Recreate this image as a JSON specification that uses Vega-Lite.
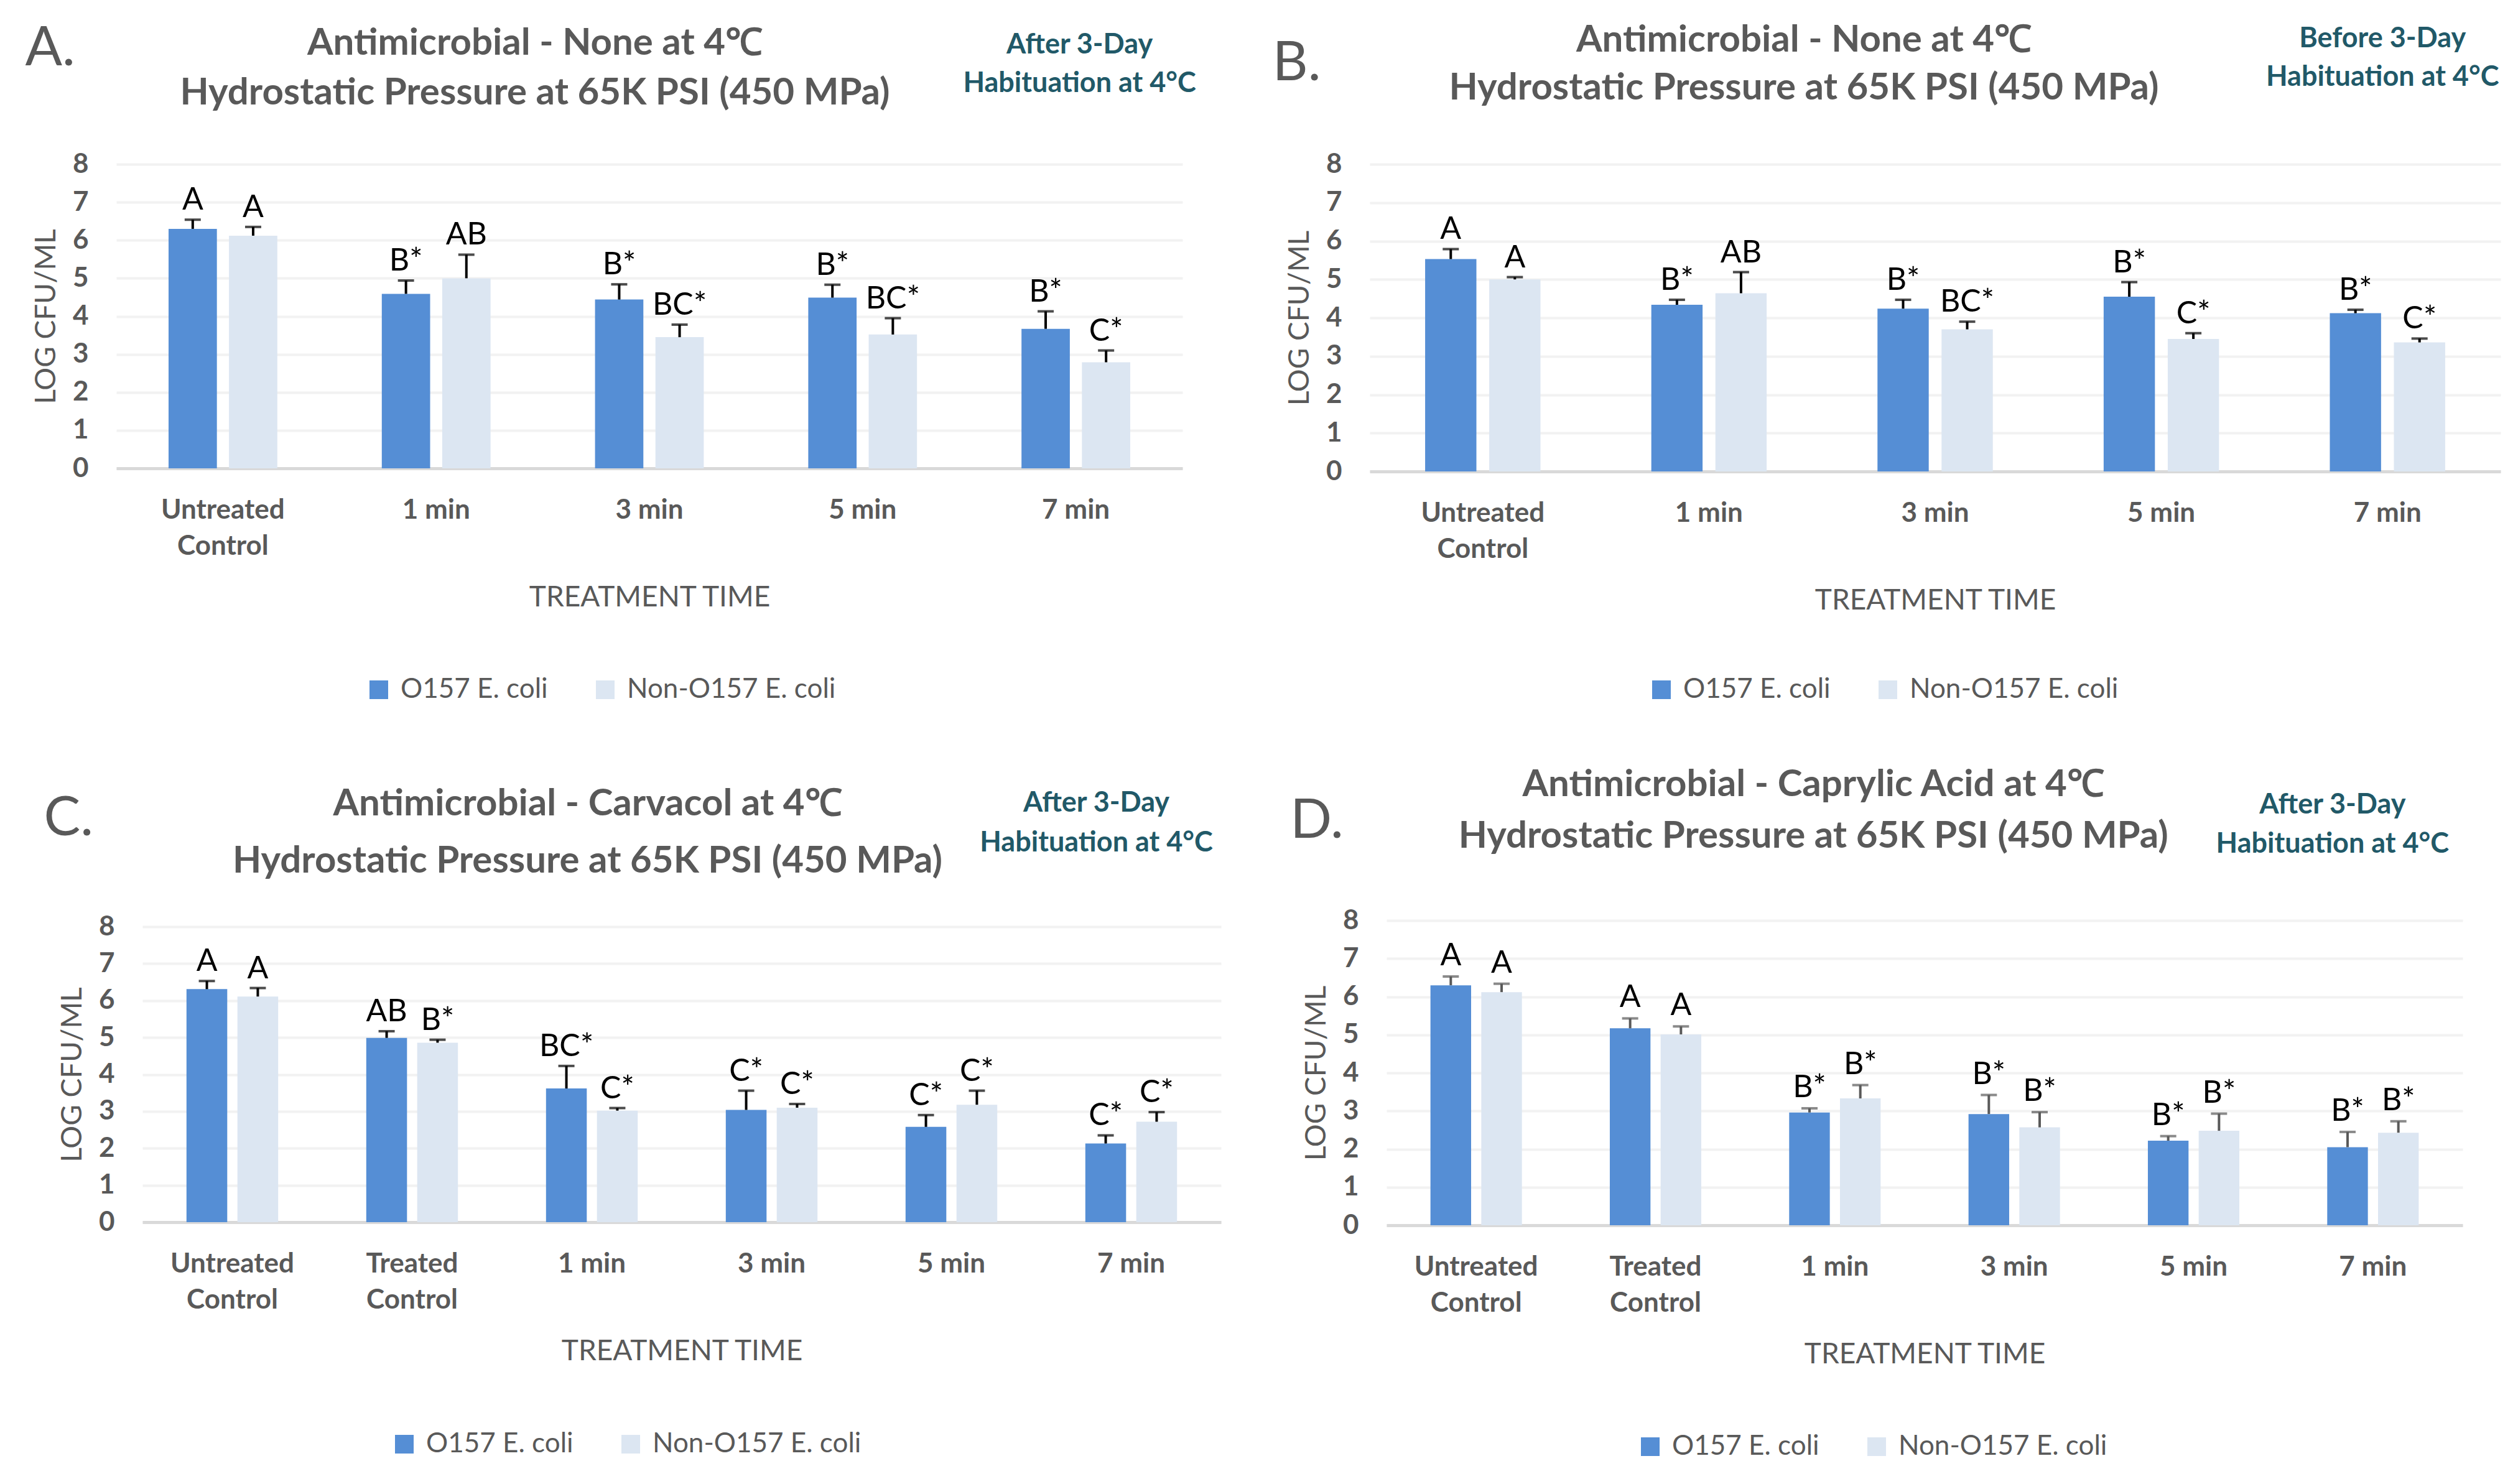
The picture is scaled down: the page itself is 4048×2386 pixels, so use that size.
{
  "$schema": "https://vega.github.io/schema/vega-lite/v6.json",
  "background": "white",
  "padding": {"left": 40, "top": 35, "right": 10, "bottom": 10},
  "config": {
    "view": {"stroke": null},
    "font": "Lato",
    "axis": {"labelFont": "Lato", "titleFont": "Lato", "labelColor": "#595959", "titleColor": "#595959", "labelFontWeight": "bold", "titleFontWeight": "normal", "ticks": false, "labelLimit": 0},
    "axisX": {"labelFontSize": 44, "titleFontSize": 46, "labelPadding": 45, "labelLineHeight": 58, "titlePadding": 38, "domainColor": "#D9D9D9", "domainWidth": 5, "grid": false, "labelAngle": 0},
    "axisY": {"labelFontSize": 44, "titleFontSize": 46, "labelPadding": 45, "titlePadding": 18, "domain": false, "grid": true, "gridColor": "#F2F2F2", "gridWidth": 4, "format": "d"},
    "legend": {"orient": "none", "direction": "horizontal", "title": null, "symbolType": "square", "symbolSize": 900, "symbolStrokeWidth": 0, "labelFontSize": 44, "labelColor": "#595959", "labelFont": "Lato", "labelOffset": 13, "columnPadding": 70, "labelLimit": 0}
  },
  "datasets": {
    "bars": [
      {"panel": "A", "time": "Untreated Control", "series": "O157 E. coli", "value": 6.30, "hi": 6.54, "sig": "A"},
      {"panel": "A", "time": "Untreated Control", "series": "Non-O157 E. coli", "value": 6.12, "hi": 6.35, "sig": "A"},
      {"panel": "A", "time": "1 min", "series": "O157 E. coli", "value": 4.59, "hi": 4.94, "sig": "B*"},
      {"panel": "A", "time": "1 min", "series": "Non-O157 E. coli", "value": 5.00, "hi": 5.62, "sig": "AB"},
      {"panel": "A", "time": "3 min", "series": "O157 E. coli", "value": 4.44, "hi": 4.84, "sig": "B*"},
      {"panel": "A", "time": "3 min", "series": "Non-O157 E. coli", "value": 3.45, "hi": 3.78, "sig": "BC*"},
      {"panel": "A", "time": "5 min", "series": "O157 E. coli", "value": 4.49, "hi": 4.83, "sig": "B*"},
      {"panel": "A", "time": "5 min", "series": "Non-O157 E. coli", "value": 3.52, "hi": 3.95, "sig": "BC*"},
      {"panel": "A", "time": "7 min", "series": "O157 E. coli", "value": 3.67, "hi": 4.13, "sig": "B*"},
      {"panel": "A", "time": "7 min", "series": "Non-O157 E. coli", "value": 2.79, "hi": 3.10, "sig": "C*"},
      {"panel": "B", "time": "Untreated Control", "series": "O157 E. coli", "value": 5.53, "hi": 5.79, "sig": "A"},
      {"panel": "B", "time": "Untreated Control", "series": "Non-O157 E. coli", "value": 5.00, "hi": 5.06, "sig": "A"},
      {"panel": "B", "time": "1 min", "series": "O157 E. coli", "value": 4.34, "hi": 4.47, "sig": "B*"},
      {"panel": "B", "time": "1 min", "series": "Non-O157 E. coli", "value": 4.64, "hi": 5.19, "sig": "AB"},
      {"panel": "B", "time": "3 min", "series": "O157 E. coli", "value": 4.24, "hi": 4.47, "sig": "B*"},
      {"panel": "B", "time": "3 min", "series": "Non-O157 E. coli", "value": 3.70, "hi": 3.90, "sig": "BC*"},
      {"panel": "B", "time": "5 min", "series": "O157 E. coli", "value": 4.55, "hi": 4.93, "sig": "B*"},
      {"panel": "B", "time": "5 min", "series": "Non-O157 E. coli", "value": 3.45, "hi": 3.60, "sig": "C*"},
      {"panel": "B", "time": "7 min", "series": "O157 E. coli", "value": 4.12, "hi": 4.21, "sig": "B*"},
      {"panel": "B", "time": "7 min", "series": "Non-O157 E. coli", "value": 3.36, "hi": 3.46, "sig": "C*"},
      {"panel": "C", "time": "Untreated Control", "series": "O157 E. coli", "value": 6.31, "hi": 6.53, "sig": "A"},
      {"panel": "C", "time": "Untreated Control", "series": "Non-O157 E. coli", "value": 6.11, "hi": 6.34, "sig": "A"},
      {"panel": "C", "time": "Treated Control", "series": "O157 E. coli", "value": 4.99, "hi": 5.17, "sig": "AB"},
      {"panel": "C", "time": "Treated Control", "series": "Non-O157 E. coli", "value": 4.86, "hi": 4.94, "sig": "B*"},
      {"panel": "C", "time": "1 min", "series": "O157 E. coli", "value": 3.62, "hi": 4.23, "sig": "BC*"},
      {"panel": "C", "time": "1 min", "series": "Non-O157 E. coli", "value": 3.02, "hi": 3.09, "sig": "C*"},
      {"panel": "C", "time": "3 min", "series": "O157 E. coli", "value": 3.04, "hi": 3.56, "sig": "C*"},
      {"panel": "C", "time": "3 min", "series": "Non-O157 E. coli", "value": 3.10, "hi": 3.20, "sig": "C*"},
      {"panel": "C", "time": "5 min", "series": "O157 E. coli", "value": 2.58, "hi": 2.90, "sig": "C*"},
      {"panel": "C", "time": "5 min", "series": "Non-O157 E. coli", "value": 3.18, "hi": 3.56, "sig": "C*"},
      {"panel": "C", "time": "7 min", "series": "O157 E. coli", "value": 2.13, "hi": 2.35, "sig": "C*"},
      {"panel": "C", "time": "7 min", "series": "Non-O157 E. coli", "value": 2.72, "hi": 2.98, "sig": "C*"},
      {"panel": "D", "time": "Untreated Control", "series": "O157 E. coli", "value": 6.30, "hi": 6.53, "sig": "A"},
      {"panel": "D", "time": "Untreated Control", "series": "Non-O157 E. coli", "value": 6.12, "hi": 6.34, "sig": "A"},
      {"panel": "D", "time": "Treated Control", "series": "O157 E. coli", "value": 5.17, "hi": 5.43, "sig": "A"},
      {"panel": "D", "time": "Treated Control", "series": "Non-O157 E. coli", "value": 5.01, "hi": 5.22, "sig": "A"},
      {"panel": "D", "time": "1 min", "series": "O157 E. coli", "value": 2.96, "hi": 3.07, "sig": "B*"},
      {"panel": "D", "time": "1 min", "series": "Non-O157 E. coli", "value": 3.33, "hi": 3.68, "sig": "B*"},
      {"panel": "D", "time": "3 min", "series": "O157 E. coli", "value": 2.92, "hi": 3.42, "sig": "B*"},
      {"panel": "D", "time": "3 min", "series": "Non-O157 E. coli", "value": 2.57, "hi": 2.97, "sig": "B*"},
      {"panel": "D", "time": "5 min", "series": "O157 E. coli", "value": 2.22, "hi": 2.34, "sig": "B*"},
      {"panel": "D", "time": "5 min", "series": "Non-O157 E. coli", "value": 2.48, "hi": 2.93, "sig": "B*"},
      {"panel": "D", "time": "7 min", "series": "O157 E. coli", "value": 2.05, "hi": 2.45, "sig": "B*"},
      {"panel": "D", "time": "7 min", "series": "Non-O157 E. coli", "value": 2.43, "hi": 2.73, "sig": "B*"}
    ],
    "notes": [
      {"panel": "A", "letter": "A.", "note": "After 3-Day\nHabituation at 4°C", "title": "Antimicrobial - None at 4℃\nHydrostatic Pressure at 65K PSI (450 MPa)"},
      {"panel": "B", "letter": "B.", "note": "Before 3-Day\nHabituation at 4°C", "title": "Antimicrobial - None at 4℃\nHydrostatic Pressure at 65K PSI (450 MPa)"},
      {"panel": "C", "letter": "C.", "note": "After 3-Day\nHabituation at 4°C", "title": "Antimicrobial - Carvacol at 4℃\nHydrostatic Pressure at 65K PSI (450 MPa)"},
      {"panel": "D", "letter": "D.", "note": "After 3-Day\nHabituation at 4°C", "title": "Antimicrobial - Caprylic Acid at 4℃\nHydrostatic Pressure at 65K PSI (450 MPa)"}
    ]
  },
  "vconcat": [
    {
      "hconcat": [
        {
          "width": 1714, "height": 489,
          "data": {"name": "bars"},
          "transform": [{"filter": "datum.panel == 'A'"}],
          "encoding": {
            "x": {"field": "time", "type": "nominal", "title": "TREATMENT TIME",
              "scale": {"domain": ["Untreated Control", "1 min", "3 min", "5 min", "7 min"], "paddingInner": 0.49, "paddingOuter": 0.245},
              "axis": {"labelExpr": "datum.label == 'Untreated Control' ? ['Untreated', 'Control'] : datum.label == 'Treated Control' ? ['Treated', 'Control'] : datum.label"}}
          },
          "layer": [
            {"mark": {"type": "bar"},
             "encoding": {
               "xOffset": {"field": "series", "type": "nominal", "scale": {"domain": ["O157 E. coli", "Non-O157 E. coli"], "paddingInner": 0.2, "paddingOuter": 0}},
               "y": {"field": "value", "type": "quantitative", "title": "LOG CFU/ML", "scale": {"domain": [0, 8], "nice": false}, "axis": {"values": [0, 1, 2, 3, 4, 5, 6, 7, 8]}},
               "color": {"field": "series", "type": "nominal", "scale": {"domain": ["O157 E. coli", "Non-O157 E. coli"], "range": ["#558ED5", "#DCE6F2"]},
                 "legend": {"legendX": 400, "legendY": 823}}
             }},
            {"mark": {"type": "rule", "color": "#000000", "strokeWidth": 4},
             "encoding": {
               "xOffset": {"field": "series", "type": "nominal"},
               "y": {"field": "value", "type": "quantitative", "title": "LOG CFU/ML", "scale": {"domain": [0, 8], "nice": false}},
               "y2": {"field": "hi"}
             }},
            {"mark": {"type": "tick", "orient": "horizontal", "color": "#000000", "thickness": 4, "size": 26},
             "encoding": {
               "xOffset": {"field": "series", "type": "nominal"},
               "y": {"field": "hi", "type": "quantitative", "title": "LOG CFU/ML", "scale": {"domain": [0, 8], "nice": false}}
             }},
            {"mark": {"type": "text", "baseline": "alphabetic", "dy": -16, "font": "Lato", "fontSize": 50, "color": "#000000"},
             "encoding": {
               "xOffset": {"field": "series", "type": "nominal"},
               "y": {"field": "hi", "type": "quantitative", "title": "LOG CFU/ML", "scale": {"domain": [0, 8], "nice": false}},
               "text": {"field": "sig"}
             }},
            {"data": {"name": "notes"},
             "transform": [{"filter": "datum.panel == 'A'"}],
             "layer": [
               {"mark": {"type": "text", "align": "left", "baseline": "alphabetic", "dx": -318, "font": "Lato", "fontSize": 88, "color": "#595959", "clip": false},
                "encoding": {"x": {"datum": "Untreated Control"}, "y": {"datum": 10.6, "title": "LOG CFU/ML", "scale": {"domain": [0, 8], "nice": false}}, "text": {"field": "letter"}}},
               {"mark": {"type": "text", "align": "center", "baseline": "alphabetic", "dx": 6, "lineBreak": "\n", "lineHeight": 62, "font": "Lato", "fontSize": 45, "fontWeight": "bold", "color": "#215968", "clip": false},
                "encoding": {"x": {"datum": "7 min"}, "y": {"datum": 10.92, "title": "LOG CFU/ML", "scale": {"domain": [0, 8], "nice": false}}, "text": {"field": "note"}}},
               {"mark": {"type": "text", "align": "center", "baseline": "alphabetic", "dx": -184, "lineBreak": "\n", "lineHeight": 80, "font": "Lato", "fontSize": 60, "fontWeight": "bold", "color": "#595959", "clip": false},
                "encoding": {"x": {"datum": "3 min"}, "y": {"datum": 10.88, "title": "LOG CFU/ML", "scale": {"domain": [0, 8], "nice": false}}, "text": {"field": "title"}}}
             ]}
          ]
        },
        {
          "width": 1818, "height": 494,
          "data": {"name": "bars"},
          "transform": [{"filter": "datum.panel == 'B'"}],
          "encoding": {
            "x": {"field": "time", "type": "nominal", "title": "TREATMENT TIME",
              "scale": {"domain": ["Untreated Control", "1 min", "3 min", "5 min", "7 min"], "paddingInner": 0.49, "paddingOuter": 0.245},
              "axis": {"labelExpr": "datum.label == 'Untreated Control' ? ['Untreated', 'Control'] : datum.label == 'Treated Control' ? ['Treated', 'Control'] : datum.label"}}
          },
          "layer": [
            {"mark": {"type": "bar"},
             "encoding": {
               "xOffset": {"field": "series", "type": "nominal", "scale": {"domain": ["O157 E. coli", "Non-O157 E. coli"], "paddingInner": 0.2, "paddingOuter": 0}},
               "y": {"field": "value", "type": "quantitative", "title": "LOG CFU/ML", "scale": {"domain": [0, 8], "nice": false}, "axis": {"values": [0, 1, 2, 3, 4, 5, 6, 7, 8]}},
               "color": {"field": "series", "type": "nominal", "scale": {"domain": ["O157 E. coli", "Non-O157 E. coli"], "range": ["#558ED5", "#DCE6F2"]},
                 "legend": {"legendX": 447, "legendY": 823}}
             }},
            {"mark": {"type": "rule", "color": "#000000", "strokeWidth": 4},
             "encoding": {
               "xOffset": {"field": "series", "type": "nominal"},
               "y": {"field": "value", "type": "quantitative", "title": "LOG CFU/ML", "scale": {"domain": [0, 8], "nice": false}},
               "y2": {"field": "hi"}
             }},
            {"mark": {"type": "tick", "orient": "horizontal", "color": "#000000", "thickness": 4, "size": 26},
             "encoding": {
               "xOffset": {"field": "series", "type": "nominal"},
               "y": {"field": "hi", "type": "quantitative", "title": "LOG CFU/ML", "scale": {"domain": [0, 8], "nice": false}}
             }},
            {"mark": {"type": "text", "baseline": "alphabetic", "dy": -16, "font": "Lato", "fontSize": 50, "color": "#000000"},
             "encoding": {
               "xOffset": {"field": "series", "type": "nominal"},
               "y": {"field": "hi", "type": "quantitative", "title": "LOG CFU/ML", "scale": {"domain": [0, 8], "nice": false}},
               "text": {"field": "sig"}
             }},
            {"data": {"name": "notes"},
             "transform": [{"filter": "datum.panel == 'B'"}],
             "layer": [
               {"mark": {"type": "text", "align": "left", "baseline": "alphabetic", "dx": -338, "font": "Lato", "fontSize": 88, "color": "#595959", "clip": false},
                "encoding": {"x": {"datum": "Untreated Control"}, "y": {"datum": 10.19, "title": "LOG CFU/ML", "scale": {"domain": [0, 8], "nice": false}}, "text": {"field": "letter"}}},
               {"mark": {"type": "text", "align": "center", "baseline": "alphabetic", "dx": -8, "lineBreak": "\n", "lineHeight": 62, "font": "Lato", "fontSize": 45, "fontWeight": "bold", "color": "#215968", "clip": false},
                "encoding": {"x": {"datum": "7 min"}, "y": {"datum": 11.04, "title": "LOG CFU/ML", "scale": {"domain": [0, 8], "nice": false}}, "text": {"field": "note"}}},
               {"mark": {"type": "text", "align": "center", "baseline": "alphabetic", "dx": -211, "lineBreak": "\n", "lineHeight": 77, "font": "Lato", "fontSize": 60, "fontWeight": "bold", "color": "#595959", "clip": false},
                "encoding": {"x": {"datum": "3 min"}, "y": {"datum": 10.93, "title": "LOG CFU/ML", "scale": {"domain": [0, 8], "nice": false}}, "text": {"field": "title"}}}
             ]}
          ]
        }
      ],
      "spacing": 301,
      "bounds": "flush",
      "resolve": {"scale": {"color": "independent", "x": "independent", "y": "independent", "xOffset": "independent"}, "legend": {"color": "independent"}}
    },
    {
      "hconcat": [
        {
          "vconcat": [
            {"width": 1, "height": 1, "data": {"values": []}, "mark": {"type": "point", "opacity": 0}, "encoding": {}},
            {
              "hconcat": [
                {"width": 1, "height": 1, "data": {"values": []}, "mark": {"type": "point", "opacity": 0}, "encoding": {}},
                {
                  "width": 1734, "height": 475,
                  "data": {"name": "bars"},
                  "transform": [{"filter": "datum.panel == 'C'"}],
                  "encoding": {
                    "x": {"field": "time", "type": "nominal", "title": "TREATMENT TIME",
                      "scale": {"domain": ["Untreated Control", "Treated Control", "1 min", "3 min", "5 min", "7 min"], "paddingInner": 0.49, "paddingOuter": 0.245},
                      "axis": {"labelExpr": "datum.label == 'Untreated Control' ? ['Untreated', 'Control'] : datum.label == 'Treated Control' ? ['Treated', 'Control'] : datum.label"}}
                  },
                  "layer": [
                    {"mark": {"type": "bar"},
                     "encoding": {
                       "xOffset": {"field": "series", "type": "nominal", "scale": {"domain": ["O157 E. coli", "Non-O157 E. coli"], "paddingInner": 0.2, "paddingOuter": 0}},
                       "y": {"field": "value", "type": "quantitative", "title": "LOG CFU/ML", "scale": {"domain": [0, 8], "nice": false}, "axis": {"values": [0, 1, 2, 3, 4, 5, 6, 7, 8]}},
                       "color": {"field": "series", "type": "nominal", "scale": {"domain": ["O157 E. coli", "Non-O157 E. coli"], "range": ["#558ED5", "#DCE6F2"]},
                         "legend": {"legendX": 399, "legendY": 810}}
                     }},
                    {"mark": {"type": "rule", "color": "#000000", "strokeWidth": 4},
                     "encoding": {
                       "xOffset": {"field": "series", "type": "nominal"},
                       "y": {"field": "value", "type": "quantitative", "title": "LOG CFU/ML", "scale": {"domain": [0, 8], "nice": false}},
                       "y2": {"field": "hi"}
                     }},
                    {"mark": {"type": "tick", "orient": "horizontal", "color": "#000000", "thickness": 4, "size": 26},
                     "encoding": {
                       "xOffset": {"field": "series", "type": "nominal"},
                       "y": {"field": "hi", "type": "quantitative", "title": "LOG CFU/ML", "scale": {"domain": [0, 8], "nice": false}}
                     }},
                    {"mark": {"type": "text", "baseline": "alphabetic", "dy": -16, "font": "Lato", "fontSize": 50, "color": "#000000"},
                     "encoding": {
                       "xOffset": {"field": "series", "type": "nominal"},
                       "y": {"field": "hi", "type": "quantitative", "title": "LOG CFU/ML", "scale": {"domain": [0, 8], "nice": false}},
                       "text": {"field": "sig"}
                     }},
                    {"data": {"name": "notes"},
                     "transform": [{"filter": "datum.panel == 'C'"}],
                     "layer": [
                       {"mark": {"type": "text", "align": "left", "baseline": "alphabetic", "dx": -303, "font": "Lato", "fontSize": 88, "color": "#595959", "clip": false},
                        "encoding": {"x": {"datum": "Untreated Control"}, "y": {"datum": 10.48, "title": "LOG CFU/ML", "scale": {"domain": [0, 8], "nice": false}}, "text": {"field": "letter"}}},
                       {"mark": {"type": "text", "align": "center", "baseline": "alphabetic", "dx": -56, "lineBreak": "\n", "lineHeight": 64, "font": "Lato", "fontSize": 45, "fontWeight": "bold", "color": "#215968", "clip": false},
                        "encoding": {"x": {"datum": "7 min"}, "y": {"datum": 11.12, "title": "LOG CFU/ML", "scale": {"domain": [0, 8], "nice": false}}, "text": {"field": "note"}}},
                       {"mark": {"type": "text", "align": "center", "baseline": "alphabetic", "dx": -296, "lineBreak": "\n", "lineHeight": 92, "font": "Lato", "fontSize": 60, "fontWeight": "bold", "color": "#595959", "clip": false},
                        "encoding": {"x": {"datum": "3 min"}, "y": {"datum": 11.01, "title": "LOG CFU/ML", "scale": {"domain": [0, 8], "nice": false}}, "text": {"field": "title"}}}
                     ]}
                  ]
                }
              ],
              "spacing": 41,
              "bounds": "flush",
              "resolve": {"scale": {"color": "independent", "x": "independent", "y": "independent", "xOffset": "independent"}, "legend": {"color": "independent"}}
            }
          ],
          "spacing": 9,
          "bounds": "flush",
          "resolve": {"scale": {"color": "independent", "x": "independent", "y": "independent", "xOffset": "independent"}, "legend": {"color": "independent"}}
        },
        {
          "width": 1730, "height": 490,
          "data": {"name": "bars"},
          "transform": [{"filter": "datum.panel == 'D'"}],
          "encoding": {
            "x": {"field": "time", "type": "nominal", "title": "TREATMENT TIME",
              "scale": {"domain": ["Untreated Control", "Treated Control", "1 min", "3 min", "5 min", "7 min"], "paddingInner": 0.49, "paddingOuter": 0.245},
              "axis": {"labelExpr": "datum.label == 'Untreated Control' ? ['Untreated', 'Control'] : datum.label == 'Treated Control' ? ['Treated', 'Control'] : datum.label"}}
          },
          "layer": [
            {"mark": {"type": "bar"},
             "encoding": {
               "xOffset": {"field": "series", "type": "nominal", "scale": {"domain": ["O157 E. coli", "Non-O157 E. coli"], "paddingInner": 0.2, "paddingOuter": 0}},
               "y": {"field": "value", "type": "quantitative", "title": "LOG CFU/ML", "scale": {"domain": [0, 8], "nice": false}, "axis": {"values": [0, 1, 2, 3, 4, 5, 6, 7, 8]}},
               "color": {"field": "series", "type": "nominal", "scale": {"domain": ["O157 E. coli", "Non-O157 E. coli"], "range": ["#558ED5", "#DCE6F2"]},
                 "legend": {"legendX": 402, "legendY": 824}}
             }},
            {"mark": {"type": "rule", "color": "#595959", "strokeWidth": 4},
             "encoding": {
               "xOffset": {"field": "series", "type": "nominal"},
               "y": {"field": "value", "type": "quantitative", "title": "LOG CFU/ML", "scale": {"domain": [0, 8], "nice": false}},
               "y2": {"field": "hi"}
             }},
            {"mark": {"type": "tick", "orient": "horizontal", "color": "#595959", "thickness": 4, "size": 26},
             "encoding": {
               "xOffset": {"field": "series", "type": "nominal"},
               "y": {"field": "hi", "type": "quantitative", "title": "LOG CFU/ML", "scale": {"domain": [0, 8], "nice": false}}
             }},
            {"mark": {"type": "text", "baseline": "alphabetic", "dy": -18, "font": "Lato", "fontSize": 50, "color": "#000000"},
             "encoding": {
               "xOffset": {"field": "series", "type": "nominal"},
               "y": {"field": "hi", "type": "quantitative", "title": "LOG CFU/ML", "scale": {"domain": [0, 8], "nice": false}},
               "text": {"field": "sig"}
             }},
            {"data": {"name": "notes"},
             "transform": [{"filter": "datum.panel == 'D'"}],
             "layer": [
               {"mark": {"type": "text", "align": "left", "baseline": "alphabetic", "dx": -299, "font": "Lato", "fontSize": 88, "color": "#595959", "clip": false},
                "encoding": {"x": {"datum": "Untreated Control"}, "y": {"datum": 10.17, "title": "LOG CFU/ML", "scale": {"domain": [0, 8], "nice": false}}, "text": {"field": "letter"}}},
               {"mark": {"type": "text", "align": "center", "baseline": "alphabetic", "dx": -65, "lineBreak": "\n", "lineHeight": 63, "font": "Lato", "fontSize": 45, "fontWeight": "bold", "color": "#215968", "clip": false},
                "encoding": {"x": {"datum": "7 min"}, "y": {"datum": 10.81, "title": "LOG CFU/ML", "scale": {"domain": [0, 8], "nice": false}}, "text": {"field": "note"}}},
               {"mark": {"type": "text", "align": "center", "baseline": "alphabetic", "dx": -323, "lineBreak": "\n", "lineHeight": 83, "font": "Lato", "fontSize": 60, "fontWeight": "bold", "color": "#595959", "clip": false},
                "encoding": {"x": {"datum": "3 min"}, "y": {"datum": 11.27, "title": "LOG CFU/ML", "scale": {"domain": [0, 8], "nice": false}}, "text": {"field": "title"}}}
             ]}
          ]
        }
      ],
      "spacing": 2042,
      "bounds": "flush",
      "resolve": {"scale": {"color": "independent", "x": "independent", "y": "independent", "xOffset": "independent"}, "legend": {"color": "independent"}}
    }
  ],
  "spacing": 1216,
  "bounds": "flush",
  "resolve": {"scale": {"color": "independent", "x": "independent", "y": "independent", "xOffset": "independent"}, "legend": {"color": "independent"}}
}
